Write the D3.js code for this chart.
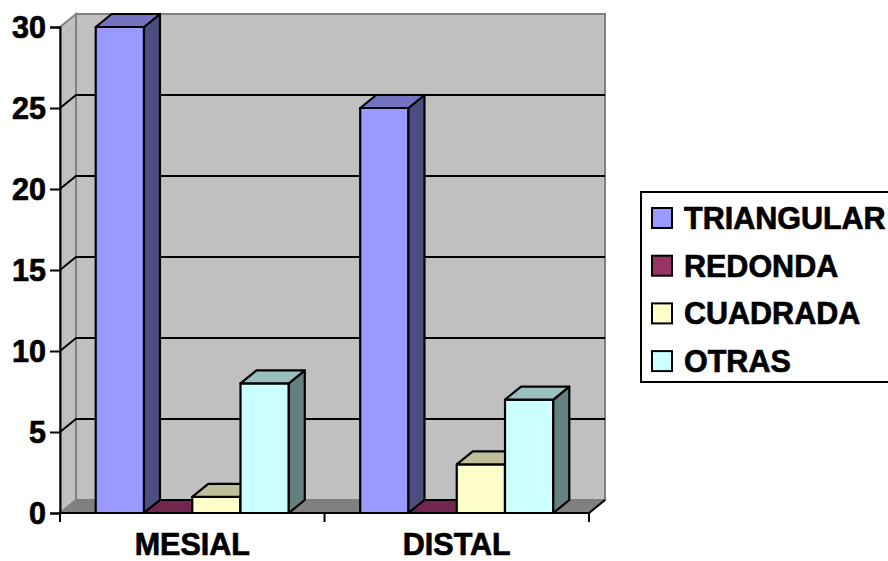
<!DOCTYPE html>
<html>
<head>
<meta charset="utf-8">
<script src="https://cdn.jsdelivr.net/npm/d3@7"></script>
<style>
  html, body { margin: 0; padding: 0; background: #fff; }
  svg { display: block; }
  text.lbl { font-family: "Liberation Sans", Arial, sans-serif; font-weight: bold; fill: #000; stroke: #000; stroke-width: 0.7px; }
</style>
</head>
<body>
<svg id="chart" width="888" height="561"></svg>
<script>
// Categories, series and values
const categories = ["MESIAL", "DISTAL"];
const seriesNames = ["TRIANGULAR", "REDONDA", "CUADRADA", "OTRAS"];
const triangular = [30, 25];
const redonda = [0, 0];
const cuadrada = [1, 3];
const otras = [8, 7];
const yTicks = [0, 5, 10, 15, 20, 25, 30];

const seriesValues = [triangular, redonda, cuadrada, otras];
const colors = ["#9999FF", "#993366", "#FFFFCC", "#CCFFFF"];

const svg = d3.select("#chart");
const FS = 30.5;

// Oblique depth offset of the 3D box
const DX = 16, DY = -13;
const left = 60, right = 589, bottom = 513, topV = 27;

const x0 = d3.scaleBand().domain(categories).range([left, right])
  .paddingInner(0.27).paddingOuter(0.135);
const x1 = d3.scaleBand().domain(seriesNames).range([0, x0.bandwidth()]);
const y = d3.scaleLinear().domain([0, 30]).range([bottom, topV]);

const shade = (c, k) => { const r = d3.rgb(c); return d3.rgb(r.r * k, r.g * k, r.b * k).formatHex(); };
const poly = pts => pts.map(p => p.join(",")).join(" ");

// Back wall
svg.append("polygon")
  .attr("points", poly([[left + DX, y(30) + DY], [right + DX, y(30) + DY], [right + DX, bottom + DY], [left + DX, bottom + DY]]))
  .attr("fill", "#C0C0C0").attr("stroke", "#808080").attr("stroke-width", 2);
// Side wall
svg.append("polygon")
  .attr("points", poly([[left, y(30)], [left + DX, y(30) + DY], [left + DX, bottom + DY], [left, bottom]]))
  .attr("fill", "#C0C0C0").attr("stroke", "#808080").attr("stroke-width", 2);
// Floor
svg.append("polygon")
  .attr("points", poly([[left, bottom], [right, bottom], [right + DX, bottom + DY], [left + DX, bottom + DY]]))
  .attr("fill", "#808080").attr("stroke", "#808080").attr("stroke-width", 1.5);
svg.append("line")
  .attr("x1", right).attr("y1", bottom).attr("x2", right + DX).attr("y2", bottom + DY)
  .attr("stroke", "#000").attr("stroke-width", 2);

// Gridlines on side wall and back wall
const grid = yTicks.filter(v => v > 0 && v < 30);
const g = svg.append("g");
grid.forEach(v => {
  g.append("polyline")
    .attr("points", poly([[left, y(v)], [left + DX, y(v) + DY], [right + DX, y(v) + DY]]))
    .attr("fill", "none").attr("stroke", "#000").attr("stroke-width", 2);
});

// Value axis
const yAxis = svg.append("g").attr("transform", `translate(${left},0)`)
  .call(d3.axisLeft(y).tickValues(yTicks).tickSize(10).tickPadding(4).tickFormat(d3.format("d")));
yAxis.attr("font-family", null).attr("font-size", null);
yAxis.select(".domain").attr("stroke", "#000").attr("stroke-width", 2);
yAxis.selectAll(".tick line").attr("stroke", "#000").attr("stroke-width", 2);
yAxis.selectAll(".tick text").attr("class", "lbl").attr("font-size", FS).attr("dy", "0.36em");

// Category axis
svg.append("line").attr("x1", left - 1).attr("x2", right).attr("y1", bottom).attr("y2", bottom)
  .attr("stroke", "#000").attr("stroke-width", 2);
const step = x0.step();
[left, left + step, right].forEach(xv => {
  svg.append("line").attr("x1", xv).attr("x2", xv).attr("y1", bottom).attr("y2", bottom + 9)
    .attr("stroke", "#000").attr("stroke-width", 2);
});
svg.selectAll(".cat").data(categories).enter().append("text")
  .attr("class", "lbl")
  .attr("x", d => x0(d) + x0.bandwidth() / 2)
  .attr("y", 555)
  .attr("text-anchor", "middle").attr("font-size", FS)
  .text(d => d);

// 3D bars
const bars = svg.append("g");
categories.forEach((cat, ci) => {
  seriesNames.forEach((s, si) => {
    const v = seriesValues[si][ci];
    const xa = x0(cat) + x1(s), xb = xa + x1.bandwidth();
    const yt = y(v), yb = y(0);
    const c = colors[si];
    const bg = bars.append("g").attr("stroke", "#000").attr("stroke-width", 2.2).attr("stroke-linejoin", "round");
    if (v > 0) {
      bg.append("polygon").attr("points", poly([[xa, yt], [xb, yt], [xb, yb], [xa, yb]])).attr("fill", c);
      bg.append("polygon").attr("points", poly([[xb, yt], [xb + DX, yt + DY], [xb + DX, yb + DY], [xb, yb]])).attr("fill", shade(c, 0.5));
    }
    bg.append("polygon").attr("points", poly([[xa, yt], [xa + DX, yt + DY], [xb + DX, yt + DY], [xb, yt]])).attr("fill", shade(c, 0.75));
  });
});

// Legend
const lg = svg.append("g");
lg.append("rect").attr("x", 641).attr("y", 192).attr("width", 260).attr("height", 190)
  .attr("fill", "#fff").attr("stroke", "#000").attr("stroke-width", 2);
seriesNames.forEach((s, i) => {
  const cy = 218 + i * 47.7;
  lg.append("rect").attr("x", 652).attr("y", cy - 10).attr("width", 20).attr("height", 20)
    .attr("fill", colors[i]).attr("stroke", "#000").attr("stroke-width", 2);
  lg.append("text").attr("class", "lbl").attr("x", 684).attr("y", cy).attr("dy", "0.36em").attr("font-size", FS).text(s);
});
</script>
</body>
</html>
